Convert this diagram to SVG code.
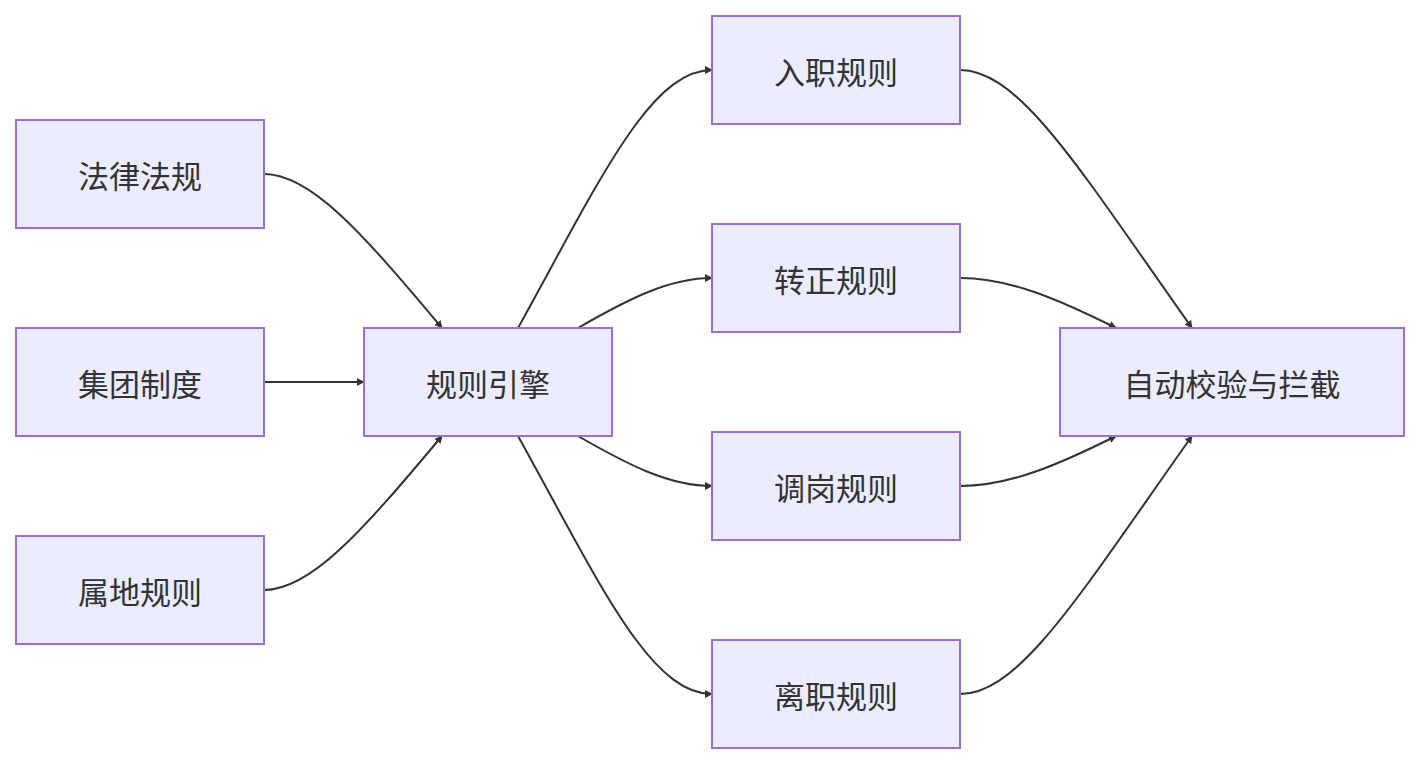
<svg xmlns="http://www.w3.org/2000/svg" width="1420" height="764" viewBox="0 0 1420 764">
<style>
.n rect{fill:#ECECFF;stroke:#9370DB;stroke-width:2}
.n text{font-family:"Noto Sans CJK SC","Liberation Sans",sans-serif;font-size:31px;fill:#333;text-anchor:middle;dominant-baseline:central}
.e path{fill:none;stroke:#333;stroke-width:2;marker-end:url(#a)}
</style>
<defs><marker id="a" viewBox="0 0 10 10" refX="9" refY="5" markerWidth="8" markerHeight="8" markerUnits="userSpaceOnUse" orient="auto"><path d="M0,0 L10,5 L0,10 z" fill="#333"/></marker></defs>
<rect width="1420" height="764" fill="#fff"/>
<g class="e">
<path d="M264,174 C310,174 360,230 442,328"/>
<path d="M264,382 L364,382"/>
<path d="M264,590 C310,590 360,534 442,436"/>
<path d="M518,328 C600,180 650,70 712,70"/>
<path d="M578,328 C630,298 670,278 712,278"/>
<path d="M578,436 C630,466 670,486 712,486"/>
<path d="M518,436 C600,584 650,694 712,694"/>
<path d="M960,70 C1020,70 1080,170 1192,328"/>
<path d="M960,278 C1010,278 1060,300 1116,328"/>
<path d="M960,486 C1010,486 1060,464 1116,436"/>
<path d="M960,694 C1020,694 1080,594 1192,436"/>
</g>
<g id="n1" class="n"><rect x="16" y="120" width="248" height="108"/><text x="140" y="174">法律法规</text></g>
<g id="n2" class="n"><rect x="16" y="328" width="248" height="108"/><text x="140" y="382">集团制度</text></g>
<g id="n3" class="n"><rect x="16" y="536" width="248" height="108"/><text x="140" y="590">属地规则</text></g>
<g id="n4" class="n"><rect x="364" y="328" width="248" height="108"/><text x="488" y="382">规则引擎</text></g>
<g id="n5" class="n"><rect x="712" y="16" width="248" height="108"/><text x="836" y="70">入职规则</text></g>
<g id="n6" class="n"><rect x="712" y="224" width="248" height="108"/><text x="836" y="278">转正规则</text></g>
<g id="n7" class="n"><rect x="712" y="432" width="248" height="108"/><text x="836" y="486">调岗规则</text></g>
<g id="n8" class="n"><rect x="712" y="640" width="248" height="108"/><text x="836" y="694">离职规则</text></g>
<g id="n9" class="n"><rect x="1060" y="328" width="344" height="108"/><text x="1232" y="382">自动校验与拦截</text></g>
</svg>
